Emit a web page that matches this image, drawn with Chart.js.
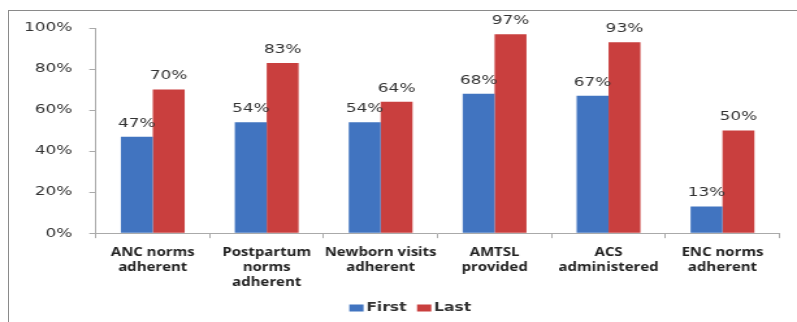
<!DOCTYPE html>
<html>
<head>
<meta charset="utf-8">
<script src="https://cdn.jsdelivr.net/npm/chart.js@4"></script>
<style>
  html, body { margin: 0; padding: 0; background: #fff; }
  #wrap { position: relative; width: 797px; height: 322px; overflow: hidden; }
  #frame { position: absolute; left: 8px; top: 10px; width: 800px; height: 330px; border: 1px solid #8a8a8a; box-sizing: border-box; }
  /* the reference is stretched sideways, so the canvas is drawn narrow and widened */
  canvas { position: absolute; left: 0; top: 0; width: 797px !important; height: 322px !important; }
</style>
</head>
<body>
<div id="wrap">
  <div id="frame"></div>
  <canvas id="chart" width="613" height="322"></canvas>
</div>
<script>
// --- DATA ---
const categories = [
    ['ANC norms', 'adherent'],
    ['Postpartum', 'norms', 'adherent'],
    ['Newborn visits', 'adherent'],
    ['AMTSL', 'provided'],
    ['ACS', 'administered'],
    ['ENC norms', 'adherent']
];
const seriesNames = ['First', 'Last'];
const firstValues = [47, 54, 54, 68, 67, 13];
const lastValues = [70, 83, 64, 97, 93, 50];
const yTicks = [0, 20, 40, 60, 80, 100];

// value labels drawn above each bar
const valueLabels = {
    id: 'valueLabels',
    afterDatasetsDraw(chart) {
        const ctx = chart.ctx;
        ctx.save();
        ctx.font = '13px "DejaVu Sans"';
        ctx.fillStyle = '#333';
        ctx.textAlign = 'center';
        ctx.textBaseline = 'bottom';
        chart.data.datasets.forEach((ds, i) => {
            chart.getDatasetMeta(i).data.forEach((bar, j) => {
                ctx.fillText(ds.data[j] + '%', bar.x, bar.y - 7);
            });
        });
        ctx.restore();
    }
};

// small legend under the axis, squares close to their text like the original
const bottomLegend = {
    id: 'bottomLegend',
    afterDraw(chart) {
        const ctx = chart.ctx;
        ctx.save();
        ctx.font = 'bold 12px "DejaVu Sans"';
        ctx.textBaseline = 'middle';
        const boxW = 11, boxH = 7, gap = 2, itemGap = 8;
        const items = chart.data.datasets.map(ds => ({
            text: ds.label, color: ds.backgroundColor, w: ctx.measureText(ds.label).width
        }));
        const total = items.reduce((s, it) => s + boxW + gap + it.w, 0) + itemGap * (items.length - 1);
        let x = chart.width / 2 + 9 - total / 2;
        const y = chart.height - 14;
        items.forEach(it => {
            ctx.fillStyle = it.color;
            ctx.fillRect(x, y - boxH / 2, boxW, boxH);
            x += boxW + gap;
            ctx.fillStyle = '#333';
            ctx.fillText(it.text, x, y);
            x += it.w + itemGap;
        });
        ctx.restore();
    }
};

const ctx = document.getElementById('chart').getContext('2d');
new Chart(ctx, {
    type: 'bar',
    data: {
        labels: categories,
        datasets: [
            { label: seriesNames[0], data: firstValues, backgroundColor: '#4174c0' },
            { label: seriesNames[1], data: lastValues, backgroundColor: '#c93f3e' }
        ]
    },
    options: {
        responsive: false,
        animation: false,
        layout: { padding: { left: 5.5, right: 13.5, top: 28, bottom: 25 } },
        datasets: { bar: { categoryPercentage: 0.56, barPercentage: 1 } },
        plugins: {
            legend: { display: false },
            tooltip: { enabled: false }
        },
        scales: {
            x: {
                grid: { display: true, drawOnChartArea: false, offset: true, tickLength: 5, color: '#aaa' },
                border: { color: '#aaa' },
                ticks: {
                    color: '#222', maxRotation: 0, autoSkip: false, padding: 7,
                    font: { family: 'Open Sans', size: 11.5, weight: 'bold', lineHeight: 1.3 }
                }
            },
            y: {
                min: 0, max: 100,
                afterBuildTicks(axis) { axis.ticks = yTicks.map(v => ({ value: v })); },
                grid: { display: true, drawOnChartArea: false, tickLength: 5, color: '#aaa' },
                border: { color: '#aaa' },
                ticks: {
                    color: '#333', padding: 13,
                    font: { family: 'DejaVu Sans', size: 13 },
                    callback: v => v + '%'
                }
            }
        }
    },
    plugins: [valueLabels, bottomLegend]
});
</script>
</body>
</html>
